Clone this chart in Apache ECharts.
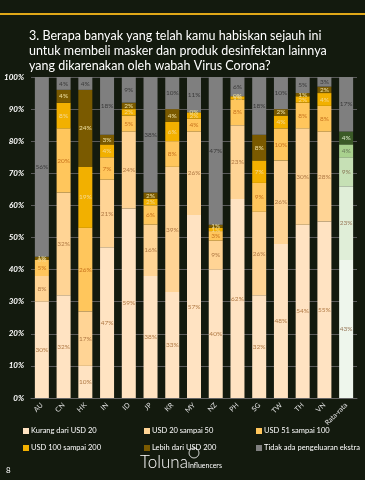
<!DOCTYPE html>
<html>
<head>
<meta charset="utf-8">
<script src="https://cdn.jsdelivr.net/npm/echarts@6/dist/echarts.min.js"></script>
<style>
html,body{margin:0;padding:0;background:#131a0e;}
#c{width:365px;height:480px;}
</style>
</head>
<body>
<div id="c"></div>
<script>
var categories = ['AU','CN','HK','IN','ID','JP','KR','MY','NZ','PH','SG','TW','TH','VN','Rata-rata'];
var seriesNames = ['Kurang dari USD 20','USD 20 sampai 50','USD 51 sampai 100','USD 100 sampai 200','Lebih dari USD 200','Tidak ada pengeluaran ekstra'];
var kurang20   = [30,32,10,47,59,38,33,57,40,62,32,48,54,55,43];
var usd20_50   = [8,32,17,21,24,16,39,26,9,23,26,26,30,28,23];
var usd51_100  = [5,20,26,7,5,6,8,4,3,8,9,10,8,8,9];
var usd100_200 = [0,8,19,4,2,2,6,2,1,1,7,4,2,4,4];
var lebih200   = [1,4,24,3,2,2,4,0,1,0,8,2,1,2,4];
var tidakAda   = [56,4,4,18,9,38,10,11,47,6,18,10,5,3,17];
var yTicks = [0,10,20,30,40,50,60,70,80,90,100];

var colors = ['#ffe3c2','#ffd495','#ffc65c','#f2b000','#7a5a00','#7f7f7f'];
var avgCols = ['#eef6ec','#e0eed8','#c6e0b5','#a9d18e','#3b5a27','#7f7f7f'];
var labelColors = ['#b07a45','#b07a45','#c8741e','#f5d890','#efe0a0','#3a3a3a'];
var avgLabelColors = ['#9a7a5a','#9a7a5a','#8a7a5a','#6a7a5a','#d8e8c8','#3a3a3a'];
var allData = [kurang20, usd20_50, usd51_100, usd100_200, lebih200, tidakAda];

var series = allData.map(function(arr, si){
  return {
    name: seriesNames[si],
    type: 'bar',
    stack: 'total',
    barWidth: 14,
    itemStyle: {color: colors[si]},
    label: {
      show: true, position: 'inside', formatter: '{c}%',
      fontSize: 6.5, fontFamily: 'Lato', color: labelColors[si]
    },
    data: arr.map(function(v, i){
      if (i === categories.length - 1) {
        return {value: v, itemStyle: {color: avgCols[si]}, label: {color: avgLabelColors[si]}};
      }
      return v;
    })
  };
});

var chart = echarts.init(document.getElementById('c'), null, {renderer:'canvas'});
var legendBase = {
  icon: 'rect', itemWidth: 6, itemHeight: 6, itemGap: 9,
  orient: 'vertical',
  textStyle: {color: '#ffffff', fontSize: 7.5, fontFamily: 'Lato', padding:[0,0,0,-3]}
};
chart.setOption({
  backgroundColor: '#131a0e',
  animation: false,
  title: {
    text: '3. Berapa banyak yang telah kamu habiskan sejauh ini\nuntuk membeli masker dan produk desinfektan lainnya\nyang dikarenakan oleh wabah Virus Corona?',
    left: 24, top: 23,
    textStyle: {color: '#ffffff', fontSize: 12.5, fontWeight: 'normal', fontFamily: 'Lato', lineHeight: 15}
  },
  legend: [
    Object.assign({}, legendBase, {left: 18, top: 422, data: [seriesNames[0], seriesNames[3]]}),
    Object.assign({}, legendBase, {left: 139, top: 422, data: [seriesNames[1], seriesNames[4]]}),
    Object.assign({}, legendBase, {left: 251, top: 422, data: [seriesNames[2], seriesNames[5]]})
  ],
  grid: {left: 31, top: 77, width: 326, height: 321},
  xAxis: {
    type: 'category', data: categories,
    axisLine: {lineStyle: {color: '#666666'}},
    axisTick: {show: false},
    axisLabel: {color: '#e0e0e0', fontSize: 7, fontFamily: 'Lato', rotate: 45, margin: 6, interval: 0}
  },
  yAxis: {
    type: 'value', min: 0, max: 100, interval: 10,
    axisLine: {show: false}, axisTick: {show: false},
    splitLine: {lineStyle: {color: '#5a5a5a', width: 1}},
    axisLabel: {
      color: '#ffffff', fontSize: 8, fontWeight: 'bold', fontStyle: 'italic', fontFamily: 'Lato', margin: 7,
      formatter: function(v){ return yTicks.indexOf(v) >= 0 ? v + '%' : ''; }
    }
  },
  series: series,
  graphic: [
    {type: 'rect', shape: {x: 0, y: 13, width: 365, height: 2}, style: {fill: '#e0a818'}},
    {type: 'text', left: 140, top: 454, style: {text: 'Toluna', fill: '#ffffff', fontSize: 17, fontFamily: 'Lato', fontWeight: 300}},
    {type: 'text', left: 188, top: 462, style: {text: 'Influencers', fill: '#ffffff', fontSize: 7, fontFamily: 'Lato'}},
    {type: 'circle', shape: {cx: 194, cy: 453, r: 5}, style: {fill: 'none', stroke: '#ffffff', lineWidth: 0.8}},
    {type: 'text', left: 6, top: 466, style: {text: '8', fill: '#ffffff', fontSize: 8, fontFamily: 'Lato'}}
  ]
});
</script>
</body>
</html>
